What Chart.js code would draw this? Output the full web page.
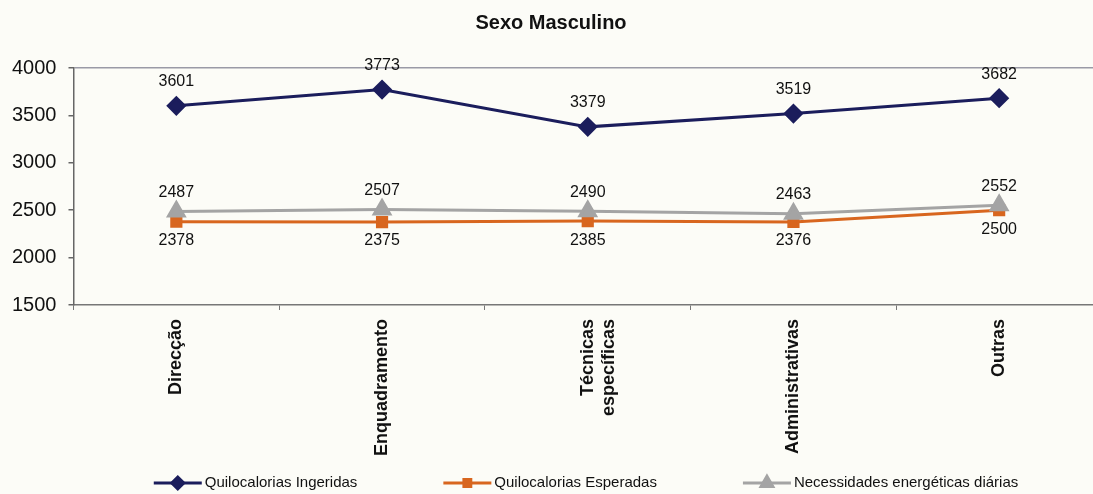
<!DOCTYPE html>
<html>
<head>
<meta charset="utf-8">
<script src="https://cdn.jsdelivr.net/npm/chart.js@4.4.1/dist/chart.umd.min.js"></script>
<style>
  html, body { margin: 0; padding: 0; background: #fcfcf7; overflow: hidden; }
  #wrap { position: absolute; left: 0; top: 0; width: 1120px; height: 494px; }
</style>
</head>
<body>
<div id="wrap"><canvas id="kcalChart"></canvas></div>
<script>
const categories = ["Direcção", "Enquadramento", ["Técnicas", "específicas"], "Administrativas", "Outras"];
const ingeridas = [3601, 3773, 3379, 3519, 3682];
const esperadas = [2378, 2375, 2385, 2376, 2500];
const necessidades = [2487, 2507, 2490, 2463, 2552];
const yTicks = [1500, 2000, 2500, 3000, 3500, 4000];

const FONT = "'Liberation Sans', Arial, sans-serif";
const NAVY = "#1b1d5c";
const ORANGE = "#d8661f";
const GREY = "#a4a4a4";

// writes each point's value next to it, above or below depending on the series
const valueLabels = {
  id: "valueLabels",
  afterDatasetsDraw(chart) {
    const c = chart.ctx;
    c.save();
    c.font = "16px " + FONT;
    c.fillStyle = "#111";
    c.textAlign = "center";
    c.textBaseline = "middle";
    chart.data.datasets.forEach((ds, i) => {
      const meta = chart.getDatasetMeta(i);
      meta.data.forEach((pt, j) => {
        c.fillText(String(ds.data[j]), pt.x, pt.y + ds.labelShift);
      });
    });
    c.restore();
  },
};

// legend with a short line and the series marker in the middle
const lineLegend = {
  id: "lineLegend",
  afterDraw(chart) {
    const c = chart.ctx;
    const sample = 48;
    const gap = 86;
    const y = 483;
    const centerX = 586;
    c.save();
    c.font = "15px " + FONT;
    c.textBaseline = "middle";
    const items = [0, 1, 2].map((i) => {
      const ds = chart.data.datasets.find((d) => d.legendIndex === i);
      const w = sample + 3 + c.measureText(ds.label).width;
      return { ds, w };
    });
    const total = items.reduce((a, it) => a + it.w, 0) + gap * (items.length - 1);
    let x = centerX - total / 2;
    items.forEach(({ ds, w }) => {
      c.strokeStyle = ds.borderColor;
      c.lineWidth = 3;
      c.beginPath();
      c.moveTo(x, y);
      c.lineTo(x + sample, y);
      c.stroke();
      Chart.helpers.drawPoint(c, {
        pointStyle: ds.pointStyle,
        radius: ds.pointRadius * 0.75,
        borderWidth: 1,
      }, x + sample / 2, y);
      c.fillStyle = ds.borderColor;
      c.fill();
      c.fillStyle = "#111";
      c.fillText(ds.label, x + sample + 3, y);
      x += w + gap;
    });
    c.restore();
  },
};

new Chart(document.getElementById("kcalChart"), {
  type: "line",
  data: {
    labels: categories,
    datasets: [
      {
        label: "Necessidades energéticas diárias",
        data: necessidades,
        borderColor: GREY,
        backgroundColor: GREY,
        pointStyle: "triangle",
        pointRadius: 9,
        borderWidth: 3,
        labelShift: -19,
        legendIndex: 2,
        order: 0,
      },
      {
        label: "Quilocalorias Esperadas",
        data: esperadas,
        borderColor: ORANGE,
        backgroundColor: ORANGE,
        pointStyle: "rect",
        pointRadius: 6.5,
        borderWidth: 3,
        labelShift: 19,
        legendIndex: 1,
        order: 1,
      },
      {
        label: "Quilocalorias Ingeridas",
        data: ingeridas,
        borderColor: NAVY,
        backgroundColor: NAVY,
        pointStyle: "rectRot",
        pointRadius: 8,
        borderWidth: 3,
        labelShift: -24,
        legendIndex: 0,
        order: 2,
      },
    ],
  },
  options: {
    responsive: true,
    maintainAspectRatio: false,
    animation: false,
    layout: { padding: { left: 0, right: 18, top: 0, bottom: 29 } },
    plugins: {
      legend: { display: false },
      tooltip: { enabled: false },
      title: {
        display: true,
        text: "Sexo Masculino",
        color: "#111",
        font: { family: FONT, size: 20, weight: "bold" },
        padding: { top: 11, bottom: 33 },
      },
    },
    elements: { line: { tension: 0 }, point: { borderWidth: 1 } },
    scales: {
      x: {
        offset: true,
        grid: { offset: true, drawOnChartArea: false, tickLength: 5, color: "#777" },
        border: { color: "#777", width: 1.5 },
        ticks: {
          color: "#111",
          minRotation: 90,
          maxRotation: 90,
          padding: 9,
          font: { family: FONT, size: 18, weight: "bold" },
        },
      },
      y: {
        min: yTicks[0],
        max: yTicks[yTicks.length - 1],
        afterBuildTicks: (axis) => {
          axis.ticks = yTicks.map((v) => ({ value: v }));
        },
        grid: {
          tickLength: 5,
          color: (ctx) => (ctx.tick && ctx.tick.value === 4000 ? "#9a9aa6" : "rgba(0,0,0,0)"),
          tickColor: "#666",
          lineWidth: 1.5,
        },
        border: { color: "#666", width: 1.5 },
        ticks: {
          color: "#111",
          padding: 12,
          font: { family: FONT, size: 20 },
          callback: (v) => String(v),
        },
      },
    },
  },
  plugins: [valueLabels, lineLegend],
});
</script>
</body>
</html>
